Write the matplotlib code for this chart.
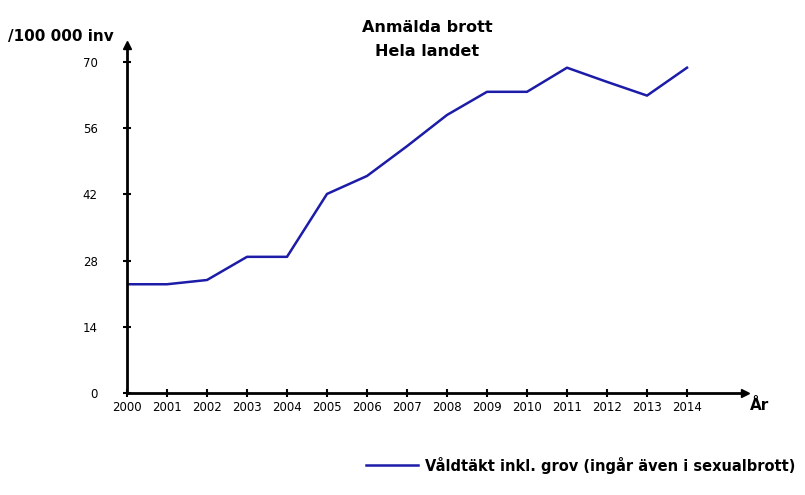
import matplotlib
matplotlib.use("Agg")
import matplotlib.pyplot as plt

years = list(range(2000, 2015))
rates = [23.0, 23.0, 23.9, 28.8, 28.8, 42.1, 45.9, 52.2, 58.8, 63.7, 63.7, 68.8, 65.8, 62.9, 68.8]
y_ticks = [0, 14, 28, 42, 56, 70]
series_name = "Våldtäkt inkl. grov (ingår även i sexualbrott)"

plt.rcParams['font.family'] = ['DejaVu Sans']

fig = plt.figure(figsize=(8.05, 4.95), dpi=100)
ax = fig.add_axes([127 / 805, 102 / 495, 618 / 805, 348 / 495])

ax.plot(years, rates, color="#1c1ca8", linewidth=1.8, solid_joinstyle="round")

ax.set_xlim(2000, 2015.45)
ax.set_ylim(0, 73.6)
ax.set_xticks(years)
ax.set_xticklabels([str(y) for y in years], fontsize=8.5)
ax.set_yticks(y_ticks)
ax.set_yticklabels([str(t) for t in y_ticks], fontsize=8.5)
ax.tick_params(axis="both", direction="inout", length=6, width=1.5, colors="black")
ax.tick_params(axis="y", pad=18)
ax.tick_params(axis="x", pad=3)

for s in ["top", "right"]:
    ax.spines[s].set_visible(False)
for s in ["left", "bottom"]:
    ax.spines[s].set_linewidth(2)

# arrow heads
ax.plot(1, 0, ">", color="black", markersize=6, transform=ax.transAxes, clip_on=False)
ax.plot(0, 1, "^", color="black", markersize=6, transform=ax.transAxes, clip_on=False)

fig.text(427 / 805, 1 - 28 / 495, "Anmälda brott", ha="center", va="center", fontsize=11.5, fontweight="bold")
fig.text(427 / 805, 1 - 52 / 495, "Hela landet", ha="center", va="center", fontsize=11.5, fontweight="bold")
fig.text(8 / 805, 1 - 37 / 495, "/100 000 inv", ha="left", va="center", fontsize=11, fontweight="bold")
fig.text(750 / 805, 1 - 406 / 495, "År", ha="left", va="center", fontsize=11, fontweight="bold")

# legend
fig.lines.append(plt.Line2D([366 / 805, 418 / 805], [1 - 465 / 495, 1 - 465 / 495],
                            transform=fig.transFigure, color="#1c1ca8", linewidth=1.8))
fig.text(425 / 805, 1 - 465 / 495, series_name, ha="left", va="center", fontsize=10.5, fontweight="bold")

fig.savefig("out.png", dpi=100)
